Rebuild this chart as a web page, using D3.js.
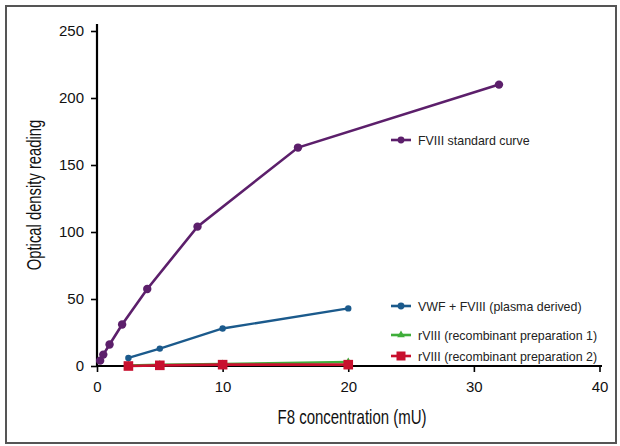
<!DOCTYPE html>
<html>
<head>
<meta charset="utf-8">
<script src="https://cdn.jsdelivr.net/npm/d3@7"></script>
<style>
  body { margin: 0; background: #fff; }
  svg text { font-family: "Liberation Sans", Arial, sans-serif; }
</style>
</head>
<body>
<svg id="chart" width="620" height="446"></svg>
<script>
// F8 concentration (mU)
const stdX = [0.25, 0.5, 1, 2, 4, 8, 16, 32];
const stdY = [4, 8.5, 16, 31, 57.5, 104, 163, 210];

const prepX = [2.5, 5, 10, 20];
const vwfY = [6, 13, 28, 43];
const rviii1Y = [0.5, 1, 1.5, 3];
const rviii2Y = [0, 0.5, 1, 1];

const xTicks = [0, 10, 20, 30, 40];
const yTicks = [0, 50, 100, 150, 200, 250];

const seriesNames = [
  "FVIII standard curve",
  "VWF + FVIII (plasma derived)",
  "rVIII (recombinant preparation 1)",
  "rVIII (recombinant preparation 2)"
];
const colors = ["#5c1f6b", "#1b5a8c", "#3fae3a", "#c8102e"];

const svg = d3.select("#chart");

// frame
svg.append("rect")
   .attr("x", 6).attr("y", 6)
   .attr("width", 610).attr("height", 437)
   .attr("fill", "none")
   .attr("stroke", "#555")
   .attr("stroke-width", 2);

const xScale = d3.scaleLinear().domain([0, 40]).range([97, 599.5]);
const yScale = d3.scaleLinear().domain([0, 250]).range([366, 31]);

// y axis
const yAxis = svg.append("g")
   .attr("transform", "translate(97,0)")
   .call(d3.axisLeft(yScale).tickValues(yTicks).tickSize(6).tickPadding(7));
yAxis.select(".domain").remove();
yAxis.append("line")
   .attr("x1", 0).attr("x2", 0)
   .attr("y1", 24).attr("y2", 367)
   .attr("stroke", "#000").attr("stroke-width", 2.2);
yAxis.selectAll(".tick line").attr("stroke-width", 1.6);
yAxis.selectAll(".tick text").attr("font-size", 15).attr("fill", "#111");

// x axis
const xAxis = svg.append("g")
   .attr("transform", "translate(0,366)")
   .call(d3.axisBottom(xScale).tickValues(xTicks).tickSize(6).tickPadding(9));
xAxis.select(".domain").remove();
xAxis.append("line")
   .attr("x1", 96).attr("x2", 602)
   .attr("y1", 0).attr("y2", 0)
   .attr("stroke", "#000").attr("stroke-width", 2.2);
xAxis.selectAll(".tick line").attr("stroke-width", 1.6);
xAxis.selectAll(".tick text").attr("font-size", 15).attr("fill", "#111");

// axis titles (condensed look via horizontal squeeze)
svg.append("text")
   .attr("transform", "translate(352,424) scale(0.75,1)")
   .attr("text-anchor", "middle")
   .attr("font-size", 20)
   .attr("fill", "#111")
   .text("F8 concentration (mU)");

svg.append("text")
   .attr("transform", "translate(41,195) rotate(-90) scale(0.74,1)")
   .attr("text-anchor", "middle")
   .attr("font-size", 20)
   .attr("fill", "#111")
   .text("Optical density reading");

const line = d3.line().x(d => xScale(d[0])).y(d => yScale(d[1]));

const series = [
  { pts: d3.zip(stdX, stdY), marker: "circle", r: 4.2, w: 2.6 },
  { pts: d3.zip(prepX, vwfY), marker: "circle", r: 3.2, w: 2.4 },
  { pts: d3.zip(prepX, rviii1Y), marker: "triangle", r: 3.5, w: 2.4 },
  { pts: d3.zip(prepX, rviii2Y), marker: "square", r: 4.8, w: 2.6 }
];

function drawMarker(g, kind, x, y, r, c) {
  if (kind === "circle") {
    g.append("circle").attr("cx", x).attr("cy", y).attr("r", r).attr("fill", c);
  } else if (kind === "square") {
    g.append("rect").attr("x", x - r).attr("y", y - r)
     .attr("width", 2 * r).attr("height", 2 * r).attr("fill", c);
  } else {
    g.append("path")
     .attr("d", d3.symbol(d3.symbolTriangle, r * r * 2.2)())
     .attr("transform", `translate(${x},${y})`)
     .attr("fill", c);
  }
}

series.forEach((s, i) => {
  const g = svg.append("g");
  g.append("path")
   .datum(s.pts)
   .attr("d", line)
   .attr("fill", "none")
   .attr("stroke", colors[i])
   .attr("stroke-width", s.w);
  s.pts.forEach(p => drawMarker(g, s.marker, xScale(p[0]), yScale(p[1]), s.r, colors[i]));
});

// legend
const legendY = [140, 306, 335, 356];
series.forEach((s, i) => {
  const g = svg.append("g").attr("transform", `translate(391,${legendY[i]})`);
  g.append("line")
   .attr("x1", 0).attr("x2", 20)
   .attr("stroke", colors[i]).attr("stroke-width", 2.6);
  drawMarker(g, s.marker, 10, 0, i === 3 ? 4.5 : 3.4, colors[i]);
  g.append("text")
   .attr("x", 27).attr("y", 4.5)
   .attr("font-size", 12.4)
   .attr("fill", "#222")
   .text(seriesNames[i]);
});
</script>
</body>
</html>
